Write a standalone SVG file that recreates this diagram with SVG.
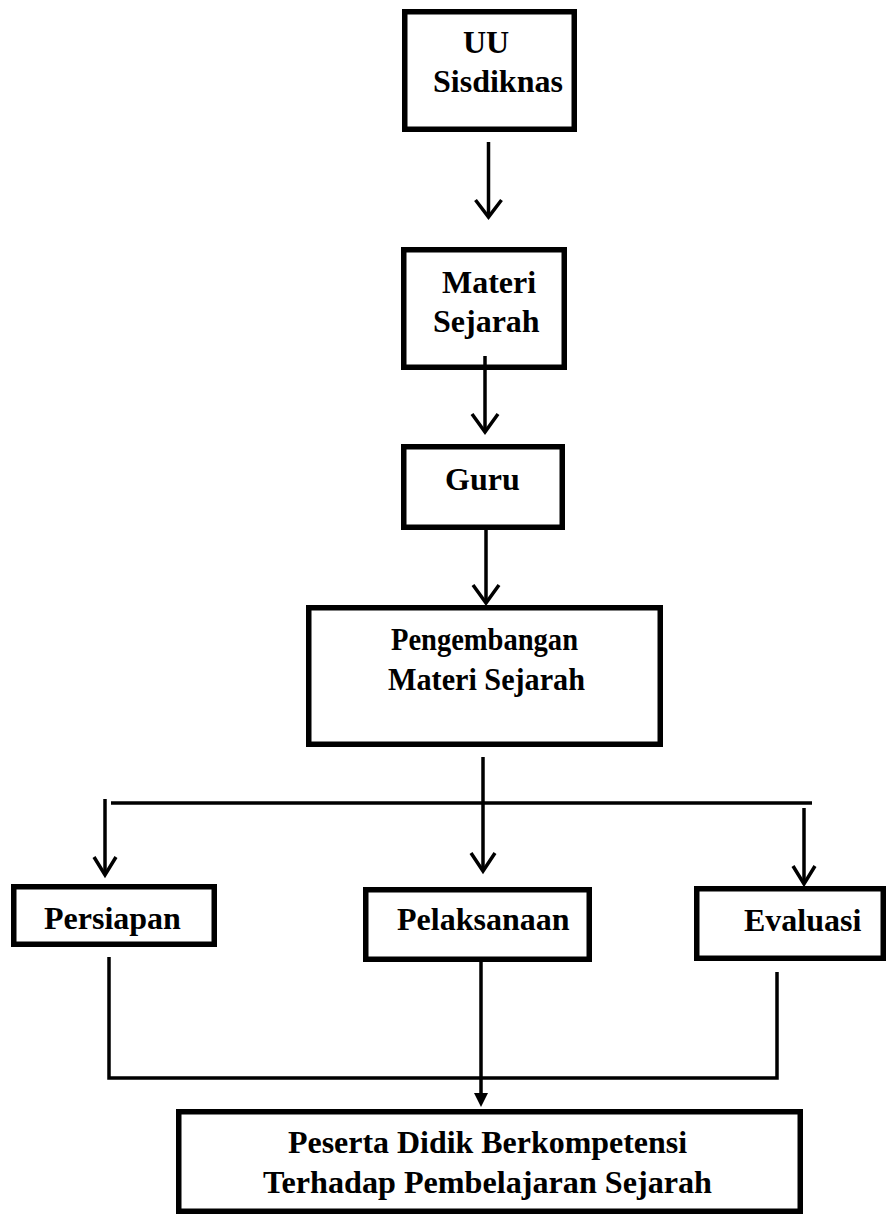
<svg xmlns="http://www.w3.org/2000/svg" width="887" height="1215" viewBox="0 0 887 1215">
<style>
  .box { fill: #ffffff; stroke: #000000; stroke-width: 5.5; }
  .t { font-family: "Liberation Serif", "Times New Roman", serif; font-weight: bold; font-size: 32px; fill: #000000; }
  .t2 { font-family: "Liberation Serif", "Times New Roman", serif; font-weight: bold; font-size: 30.5px; fill: #000000; }
  .ln { fill: none; stroke: #000000; stroke-width: 3.5; }
  .hd { fill: none; stroke: #000000; stroke-width: 3.5; stroke-linejoin: miter; }
</style>
<rect x="0" y="0" width="887" height="1215" fill="#ffffff"/>
<g id="uu-sisdiknas">
  <rect class="box" x="404.75" y="11.75" width="169.5" height="117.5"/>
  <text class="t" x="463" y="53">UU</text>
  <text class="t" x="433" y="92">Sisdiknas</text>
</g>
<g id="materi-sejarah">
  <rect class="box" x="403.75" y="249.75" width="160.5" height="117.5"/>
  <text class="t" x="442" y="293">Materi</text>
  <text class="t" x="433" y="332">Sejarah</text>
</g>
<g id="guru">
  <rect class="box" x="403.75" y="446.75" width="158.5" height="80.5"/>
  <text class="t" x="445" y="490">Guru</text>
</g>
<g id="pengembangan">
  <rect class="box" x="308.75" y="607.75" width="351.5" height="136.5"/>
  <text class="t2" x="391" y="650" textLength="187" lengthAdjust="spacingAndGlyphs">Pengembangan</text>
  <text class="t2" x="388" y="690" textLength="197" lengthAdjust="spacingAndGlyphs">Materi Sejarah</text>
</g>
<g id="persiapan">
  <rect class="box" x="13.75" y="886.75" width="200.5" height="57.5"/>
  <text class="t" x="44" y="929">Persiapan</text>
</g>
<g id="pelaksanaan">
  <rect class="box" x="365.75" y="889.75" width="223.5" height="69.5"/>
  <text class="t" x="397" y="930">Pelaksanaan</text>
</g>
<g id="evaluasi">
  <rect class="box" x="696.75" y="888.75" width="186.5" height="69.5"/>
  <text class="t" x="744" y="931">Evaluasi</text>
</g>
<g id="peserta-didik">
  <rect class="box" x="178.75" y="1111.75" width="621.5" height="99.5"/>
  <text class="t" x="288" y="1153" textLength="399" lengthAdjust="spacingAndGlyphs">Peserta Didik Berkompetensi</text>
  <text class="t" x="263" y="1193" textLength="449" lengthAdjust="spacingAndGlyphs">Terhadap Pembelajaran Sejarah</text>
</g>
<g id="connectors">
  <line class="ln" x1="488.5" y1="142" x2="488.5" y2="217"/>
  <polyline class="hd" points="475.5,200 488.5,217 501.5,200"/>
  <line class="ln" x1="485" y1="356" x2="485" y2="432"/>
  <polyline class="hd" points="472,414 485,432 498,414"/>
  <line class="ln" x1="486" y1="528" x2="486" y2="603"/>
  <polyline class="hd" points="473,585 486,603 499,585"/>
  <line class="ln" x1="483" y1="757" x2="483" y2="871"/>
  <polyline class="hd" points="471,853 483,871 495,853"/>
  <line class="ln" x1="111" y1="803" x2="812" y2="803"/>
  <line class="ln" x1="105" y1="799" x2="105" y2="875"/>
  <polyline class="hd" points="94,857 105,875 116,857"/>
  <line class="ln" x1="804" y1="808" x2="804" y2="884"/>
  <polyline class="hd" points="793,866 804,884 815,866"/>
  <polyline class="ln" points="109,957 109,1078 777,1078 777,972"/>
  <line class="ln" x1="481" y1="962" x2="481" y2="1094"/>
  <polygon points="474,1093 488,1093 481,1107" fill="#000000"/>
</g>
</svg>
